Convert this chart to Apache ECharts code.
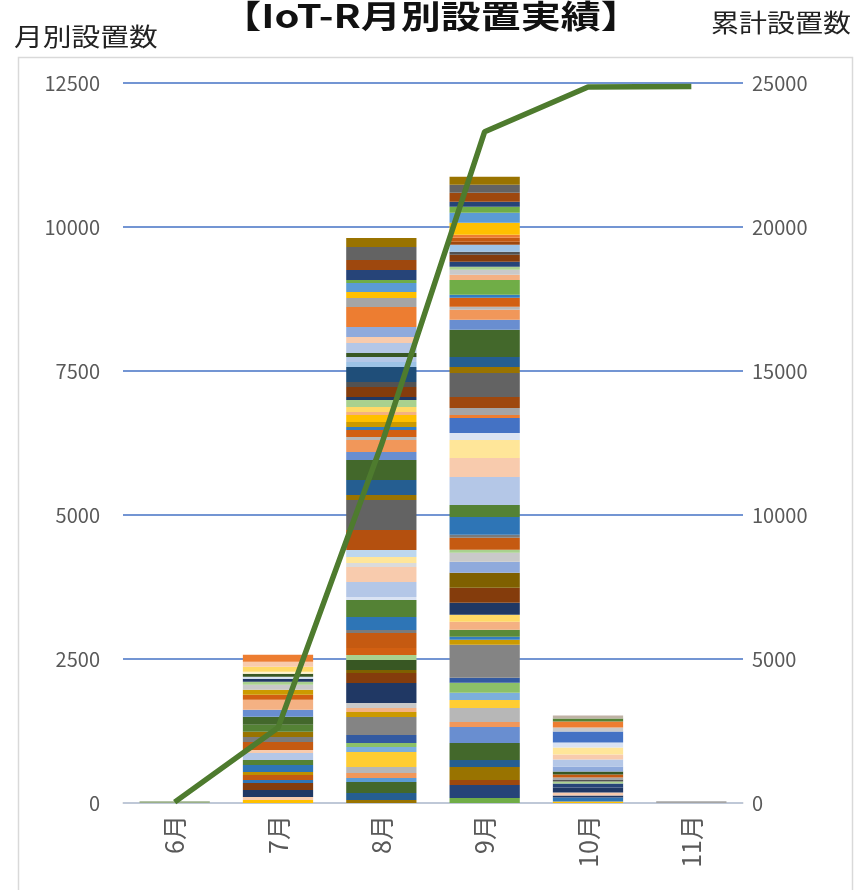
<!DOCTYPE html>
<html><head><meta charset="utf-8">
<script src="https://cdn.jsdelivr.net/npm/echarts@6/dist/echarts.min.js"></script>
<style>html,body{margin:0;padding:0;background:#fff}#c{width:866px;height:890px}</style>
</head><body><div id="c"></div>
<script>
// ---- categories ----
const months = ['6月', '7月', '8月', '9月', '10月', '11月'];
// ---- tick labels ----
const leftTicks = [0, 2500, 5000, 7500, 10000, 12500];
const rightTicks = [0, 5000, 10000, 15000, 20000, 25000];
// ---- monthly installations: stacked segments, bottom to top ----
const jun = [30];
const jul = [52,52,122,122,52,87,52,122,87,122, 52,139,87,87,122,139,122,174,87,87, 87,52,52,35,52,35,87,87,122];
const aug = [52,122,191,69,87,104,260,87,69,139, 312,87,69,87,347,174,52,174,87,122, 260,52,226,295,52,260,260,69,104,122,
             347,521,87,260,347,139,208,52,122,52, 87,122,52,87,122,52,174,87,260,87, 87,69,174,104,174,347,156,104,156,52,
             174,174,226,156];
const sep = [87,226,87,226,122,295,278,87,243,139, 122,174,87,573,87,52,122,139,122,208, 260,260,191,156,52,208,52,312,208,486,
             330,312,122,260,52,122,191,417,104,174, 469,174,174,52,156,52,260,87,87,52, 87,122,52,122,52,69,52,208,174,104,
             87,156,139,139];
const oct = [26,69,35,52,87,69,35,35,35,52, 52,87,122,87,122,87,191,69,104,52, 52];
const nov = [30];
// ---- cumulative installations (right axis) ----
const cumulative = [30, 2610, 12430, 23310, 24860, 24880];

// ---- segment colours (styles, kept apart from the data) ----
const junColors = ['#9BB08A'];
const julColors = ['#FFC000','#F8CBAD','#203864','#843C0C','#2E75B6','#C55A11','#BF9000','#2E75B6','#548235','#B4C7E7',
 '#F8CBAD','#C55A11','#7B7B7B','#997300','#548235','#43682B','#698ED0','#F4B183','#D26012','#CC9A00',
 '#C9C9C9','#A9D18E','#203864','#DAE3F3','#385723','#FFF2CC','#FFD966','#F8CBAD','#ED7D31'];
const augColors = ['#997300','#255E91','#43682B','#5B9BD5','#F1975A','#B7B7B7','#FFCD33','#7CAFDD','#8CC168','#335AA1',
 '#848484','#CC9A00','#F4B183','#C9C9C9','#203864','#843C0C','#7F6000','#385723','#A9D18E','#D26012',
 '#C55A11','#7B7B7B','#2E75B6','#548235','#DAE3F3','#B4C7E7','#F8CBAD','#DBDBDB','#FFE699','#BDD7EE',
 '#B4500F','#636363','#997300','#255E91','#43682B','#698ED0','#F1975A','#B7B7B7','#D26012','#327DC2',
 '#CC9A00','#FFC000','#F4B183','#FFD966','#A9D18E','#203864','#843C0C','#525252','#1F4E79','#9DC3E6',
 '#B4C7E7','#385723','#B4C7E7','#F8CBAD','#8FAADC','#ED7D31','#A5A5A5','#FFC000','#5B9BD5','#70AD47',
 '#264478','#9E480E','#636363','#997300'];
const sepColors = ['#70AD47','#264478','#9E480E','#997300','#255E91','#43682B','#698ED0','#F1975A','#B7B7B7','#FFCD33',
 '#7CAFDD','#8CC168','#335AA1','#848484','#CC9A00','#327DC2','#5A8A39','#F4B183','#FFD966','#203864',
 '#843C0C','#7F6000','#8FAADC','#C9C9C9','#A9D18E','#C55A11','#7B7B7B','#2E75B6','#548235','#B4C7E7',
 '#F8CBAD','#FFE699','#DAE3F3','#4472C4','#ED7D31','#A5A5A5','#9E480E','#636363','#997300','#255E91',
 '#43682B','#698ED0','#F1975A','#B7B7B7','#D26012','#327DC2','#70AD47','#F4B183','#C9C9C9','#A9D18E',
 '#264478','#843C0C','#525252','#9DC3E6','#9E480E','#C55A11','#ED7D31','#FFC000','#5B9BD5','#70AD47',
 '#264478','#9E480E','#636363','#997300'];
const octColors = ['#FFC000','#2E75B6','#203864','#F8CBAD','#1F3864','#264478','#A9D18E','#525252','#A5A5A5','#C55A11',
 '#385723','#8FAADC','#B4C7E7','#F8CBAD','#FFE699','#DAE3F3','#4472C4','#C9C9C9','#ED7D31','#548235',
 '#BFB2A5'];
const novColors = ['#A5A5A5'];

const monthly = [jun, jul, aug, sep, oct, nov];
const monthlyColors = [junColors, julColors, augColors, sepColors, octColors, novColors];

const FONT = "'Noto Sans CJK JP', 'Noto Sans', sans-serif";
const maxSeg = Math.max(...monthly.map(a => a.length));
const series = [];
for (let k = 0; k < maxSeg; k++) {
  series.push({
    type: 'bar',
    stack: 'monthly',
    barWidth: '68%',
    yAxisIndex: 0,
    silent: true,
    data: monthly.map((arr, i) => k < arr.length
      ? { value: arr[k], itemStyle: { color: monthlyColors[i][k] } }
      : '-')
  });
}
series.push({
  type: 'line',
  yAxisIndex: 1,
  data: cumulative,
  symbol: 'none',
  z: 10,
  lineStyle: { color: '#4E7B2E', width: 5.5 },
  itemStyle: { color: '#4E7B2E' }
});

const plain = v => String(v);
const chart = echarts.init(document.getElementById('c'), null, { renderer: 'canvas' });
chart.setOption({
  animation: false,
  backgroundColor: '#fff',
  textStyle: { fontFamily: FONT },
  graphic: [
    { type: 'rect', left: 16, top: 55, shape: { width: 834, height: 850 },
      style: { fill: 'none', stroke: '#D9D9D9', lineWidth: 1.5 }, silent: true },
    { type: 'text', x: 431, y: 0, scaleX: 1.25,
      style: { text: '【IoT-R月別設置実績】', textAlign: 'center', fontFamily: FONT, fontSize: 32, fontWeight: 'bold', fill: '#111' } },
    { type: 'text', x: 14, y: 24, scaleX: 1.15,
      style: { text: '月別設置数', fontFamily: FONT, fontSize: 25, fill: '#222' } },
    { type: 'text', x: 711, y: 10, scaleX: 1.12,
      style: { text: '累計設置数', fontFamily: FONT, fontSize: 25, fill: '#222' } }
  ],
  grid: { left: 123, right: 123, top: 83, bottom: 87, containLabel: false },
  xAxis: {
    type: 'category',
    data: months,
    axisLine: { lineStyle: { color: '#D9D9D9', width: 1.5 } },
    axisTick: { show: false },
    axisLabel: { rotate: 90, color: '#595959', fontSize: 25, margin: 12, fontFamily: FONT }
  },
  yAxis: [
    {
      type: 'value',
      min: leftTicks[0], max: leftTicks[leftTicks.length - 1], interval: leftTicks[1] - leftTicks[0],
      axisLine: { show: false }, axisTick: { show: false },
      axisLabel: { color: '#595959', fontSize: 20, margin: 23, fontFamily: FONT, formatter: plain },
      splitLine: { lineStyle: { color: '#4472C4', width: 1.5 } }
    },
    {
      type: 'value',
      min: rightTicks[0], max: rightTicks[rightTicks.length - 1], interval: rightTicks[1] - rightTicks[0],
      axisLine: { show: false }, axisTick: { show: false },
      axisLabel: { color: '#595959', fontSize: 20, margin: 9, fontFamily: FONT, formatter: plain },
      splitLine: { show: false }
    }
  ],
  series: series
});
</script>
</body></html>
